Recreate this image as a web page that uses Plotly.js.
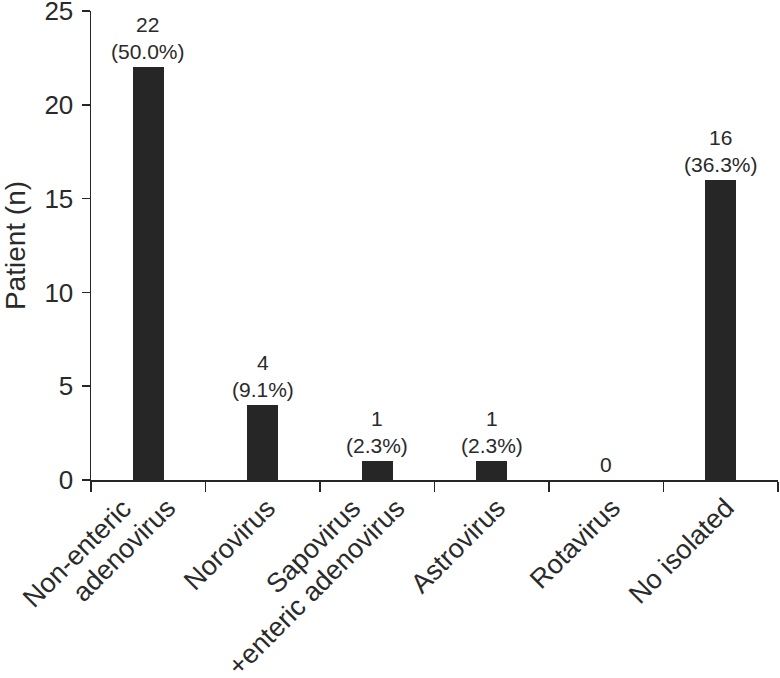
<!DOCTYPE html>
<html>
<head>
<meta charset="utf-8">
<script src="https://cdn.plot.ly/plotly-3.0.1.min.js"></script>
<style>
  body { margin: 0; background: #fff; }
  #chart { width: 780px; height: 678px; }
</style>
</head>
<body>
<div id="chart"></div>
<script>
// categories and counts
const categories = ['Non-enteric<br>adenovirus', 'Norovirus', 'Sapovirus<br>+enteric adenovirus', 'Astrovirus', 'Rotavirus', 'No isolated'];
const patients = [22, 4, 1, 1, 0, 16];
const percents = ['50.0%', '9.1%', '2.3%', '2.3%', '', '36.3%'];
const yTicks = [0, 5, 10, 15, 20, 25];

const ink = '#262626';
const txtCol = '#2a2a2a';
const fontFam = 'Arial, "Liberation Sans", Helvetica, sans-serif';

const barTrace = {
  type: 'bar',
  x: categories,
  y: patients,
  width: 0.27,
  marker: { color: ink, line: { width: 0 } },
  hoverinfo: 'skip'
};

// value labels above bars
const valueLabels = categories.map(function(c, i) {
  const txt = percents[i] ? patients[i] + '<br>(' + percents[i] + ')' : String(patients[i]);
  return {
    x: c, y: patients[i],
    xref: 'x', yref: 'y',
    text: txt,
    showarrow: false,
    yanchor: 'bottom',
    yshift: 2,
    font: { family: fontFam, size: 21, color: txtCol }
  };
});

// category labels, rotated -45deg, one annotation per line so the line ends
// sit at the same height like in the original
const catLabels = [];
categories.forEach(function(c) {
  const lines = c.split('<br>');
  lines.forEach(function(line, k) {
    let dx = 22;
    if (lines.length > 1) dx = (k === 0) ? -8 : 36;
    catLabels.push({
      x: c, y: 0,
      xref: 'x', yref: 'y',
      text: line,
      showarrow: false,
      textangle: -45,
      xanchor: 'right',
      yanchor: 'top',
      xshift: dx,
      yshift: -10,
      font: { family: fontFam, size: 27, color: txtCol }
    });
  });
});

const layout = {
  width: 780,
  height: 678,
  margin: { l: 91, r: 2, t: 11, b: 198 },
  paper_bgcolor: '#fff',
  plot_bgcolor: '#fff',
  showlegend: false,
  font: { family: fontFam, color: txtCol },
  bargap: 0,
  xaxis: {
    type: 'category',
    range: [-0.5, categories.length - 0.5],
    showline: true,
    linecolor: ink,
    linewidth: 1.5,
    ticks: 'outside',
    tickson: 'boundaries',
    ticklen: 10,
    tickwidth: 1.5,
    tickcolor: ink,
    showticklabels: false,
    showgrid: false,
    zeroline: false,
    automargin: false
  },
  yaxis: {
    range: [0, 25],
    tickvals: yTicks,
    showline: true,
    linecolor: ink,
    linewidth: 1.5,
    ticks: 'outside',
    ticklen: 8,
    tickwidth: 1.5,
    tickcolor: ink,
    ticklabelstandoff: 3,
    ticklabeloverflow: 'allow',
    tickfont: { family: fontFam, size: 26, color: txtCol },
    showgrid: false,
    zeroline: false,
    automargin: false,
    title: { text: 'Patient (n)', font: { family: fontFam, size: 28, color: txtCol }, standoff: 14 }
  },
  annotations: valueLabels.concat(catLabels)
};

Plotly.newPlot('chart', [barTrace], layout, { displayModeBar: false, staticPlot: true });
</script>
</body>
</html>
